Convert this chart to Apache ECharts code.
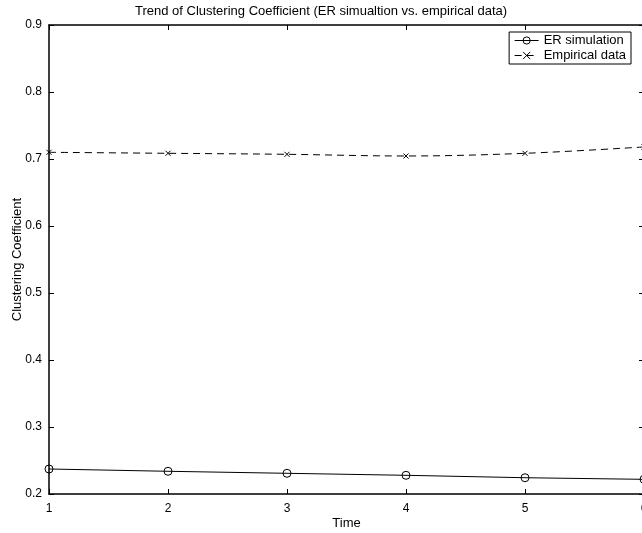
<!DOCTYPE html>
<html>
<head>
<meta charset="utf-8">
<script src="https://cdn.jsdelivr.net/npm/echarts@6/dist/echarts.min.js"></script>
<style>
html,body{margin:0;padding:0;background:#fff;}
#chart{width:642px;height:533px;}
</style>
</head>
<body>
<div id="chart"></div>
<script>
const timePoints = [1, 2, 3, 4, 5, 6];
const erSimulation = [0.2373, 0.2339, 0.2309, 0.2279, 0.2243, 0.2219];
const empiricalData = [0.7100, 0.7085, 0.7070, 0.7045, 0.7085, 0.7180];
const xTicks = [1, 2, 3, 4, 5, 6];
const yTicks = [0.2, 0.3, 0.4, 0.5, 0.6, 0.7, 0.8, 0.9];
const titleText = 'Trend of Clustering Coefficient (ER simualtion vs. empirical data)';
const seriesNames = ['ER simulation', 'Empirical data'];

const FONT = '"Liberation Sans", Arial, Helvetica, sans-serif';
const chart = echarts.init(document.getElementById('chart'), null, {renderer: 'canvas'});

const tickCommon = {show: true, inside: true, length: 5, lineStyle: {color: '#000', width: 1}};
const lineCommon = {show: true, lineStyle: {color: '#000', width: 1.5}};

const option = {
  backgroundColor: '#fff',
  animation: false,
  title: {
    text: titleText,
    left: 'center',
    top: 0,
    textStyle: {fontFamily: FONT, fontSize: 13, fontWeight: 'normal', color: '#000'}
  },
  legend: {
    data: seriesNames,
    orient: 'vertical',
    right: 11,
    top: 32,
    itemWidth: 24,
    itemHeight: 9,
    itemGap: 2,
    padding: [2, 5, 2, 5],
    borderColor: '#000',
    borderWidth: 1,
    backgroundColor: '#fff',
    itemStyle: {borderWidth: 1},
    lineStyle: {width: 1},
    textStyle: {fontFamily: FONT, fontSize: 13, color: '#000'}
  },
  grid: {left: 49, right: -2, top: 25, bottom: 39, outerBoundsMode: 'none', containLabel: false},
  xAxis: [
    {
      type: 'value', min: xTicks[0], max: xTicks[xTicks.length - 1], interval: 1,
      position: 'bottom',
      name: 'Time', nameLocation: 'middle', nameGap: 23, nameMoveOverlap: false,
      nameTextStyle: {fontFamily: FONT, fontSize: 13, color: '#000'},
      axisLine: lineCommon, axisTick: tickCommon,
      axisLabel: {fontFamily: FONT, fontSize: 12, color: '#000', margin: 9},
      splitLine: {show: false}
    },
    {
      type: 'value', min: xTicks[0], max: xTicks[xTicks.length - 1], interval: 1,
      position: 'top',
      axisLine: lineCommon, axisTick: tickCommon,
      axisLabel: {show: false}, splitLine: {show: false}
    }
  ],
  yAxis: [
    {
      type: 'value', min: yTicks[0], max: yTicks[yTicks.length - 1], interval: 0.1,
      position: 'left',
      name: 'Clustering Coefficient', nameLocation: 'middle', nameGap: 25, nameMoveOverlap: false,
      nameTextStyle: {fontFamily: FONT, fontSize: 13, color: '#000'},
      axisLine: lineCommon, axisTick: tickCommon,
      axisLabel: {fontFamily: FONT, fontSize: 12, color: '#000', margin: 7,
        formatter: v => v.toFixed(1)},
      splitLine: {show: false}
    },
    {
      type: 'value', min: yTicks[0], max: yTicks[yTicks.length - 1], interval: 0.1,
      position: 'right',
      axisLine: lineCommon, axisTick: tickCommon,
      axisLabel: {show: false}, splitLine: {show: false}
    }
  ],
  series: [
    {
      name: seriesNames[0],
      type: 'line',
      data: timePoints.map((t, i) => [t, erSimulation[i]]),
      symbol: 'circle',
      symbolSize: 8,
      showAllSymbol: true,
      lineStyle: {color: '#000', width: 1},
      itemStyle: {color: 'rgba(0,0,0,0)', borderColor: '#000', borderWidth: 1},
      z: 3
    },
    {
      name: seriesNames[1],
      type: 'line',
      smooth: 0.35,
      data: timePoints.map((t, i) => [t, empiricalData[i]]),
      symbol: 'path://M0,0L10,10M10,0L0,10',
      symbolSize: 5,
      showAllSymbol: true,
      lineStyle: {color: '#000', width: 1, type: [7, 5]},
      itemStyle: {color: 'rgba(0,0,0,0)', borderColor: '#000', borderWidth: 1},
      z: 3
    }
  ]
};
chart.setOption(option);
</script>
</body>
</html>
